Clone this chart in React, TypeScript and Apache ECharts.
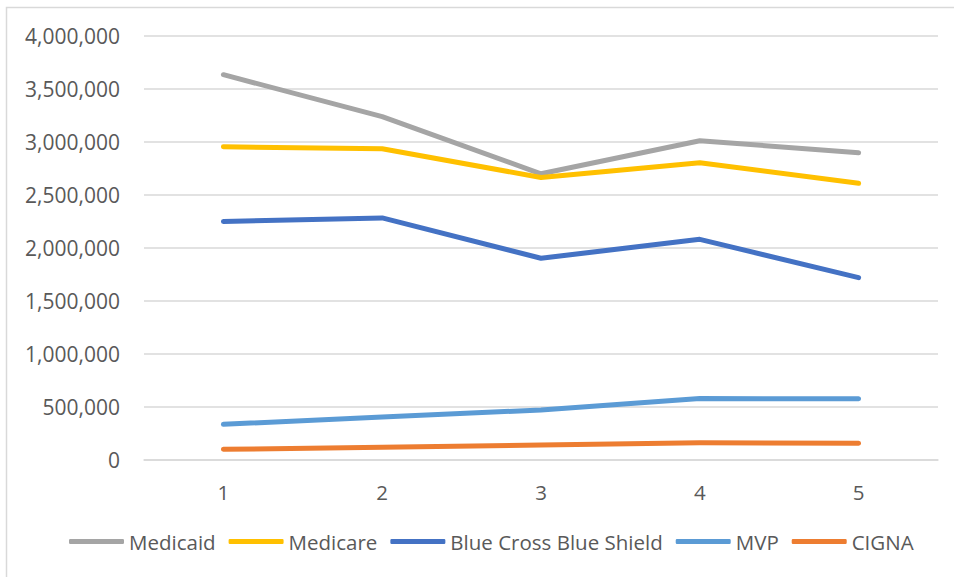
import React, { useEffect, useRef } from "react";
import * as echarts from "echarts";

const categories = ["1", "2", "3", "4", "5"];
const medicaid = [3635000, 3239000, 2700000, 3012000, 2899000];
const medicare = [2955000, 2937000, 2665000, 2805000, 2610000];
const bcbs = [2250000, 2284000, 1903000, 2082000, 1720000];
const mvp = [337000, 405000, 472000, 580000, 577000];
const cigna = [101000, 120000, 142000, 162000, 158000];

const seriesNames = ["Medicaid", "Medicare", "Blue Cross Blue Shield", "MVP", "CIGNA"];
const seriesData = [medicaid, medicare, bcbs, mvp, cigna];
const seriesColors = ["#A5A5A5", "#FFC000", "#4472C4", "#5B9BD5", "#ED7D31"];

const FONT = "'Open Sans', 'Noto Sans', sans-serif";

export default function App() {
  const ref = useRef<HTMLDivElement>(null);
  useEffect(() => {
    if (!ref.current) return;
    const chart = echarts.init(ref.current, null, { renderer: "svg" });
    chart.setOption({
      animation: false,
      backgroundColor: "#FFFFFF",
      textStyle: { fontFamily: FONT },
      graphic: [
        {
          type: "rect",
          shape: { x: 6.5, y: 7.5, width: 1000, height: 700 },
          style: { fill: "none", stroke: "#D9D9D9", lineWidth: 1.5 },
          silent: true,
          z: -1,
        },
      ],
      grid: { left: 144, right: 16, top: 36, bottom: 117 },
      legend: {
        data: seriesNames,
        bottom: 20,
        left: 64,
        icon: "roundRect",
        itemWidth: 55,
        itemHeight: 5,
        itemGap: 13,
        textStyle: { fontFamily: FONT, fontSize: 20.5, color: "#595959" },
      },
      xAxis: {
        type: "category",
        data: categories,
        boundaryGap: true,
        axisLine: { show: true, lineStyle: { color: "#D9D9D9", width: 1.5 } },
        axisTick: { show: false },
        axisLabel: { fontFamily: FONT, fontSize: 20.5, color: "#595959", margin: 21 },
      },
      yAxis: {
        type: "value",
        min: 0,
        max: 4000000,
        interval: 500000,
        axisLine: { show: false },
        axisTick: { show: false },
        splitLine: { lineStyle: { color: "#D9D9D9", width: 1.5 } },
        axisLabel: {
          fontFamily: FONT,
          fontSize: 21,
          color: "#595959",
          margin: 24,
          formatter: (v: number) => v.toLocaleString("en-US"),
        },
      },
      series: seriesNames.map((name, i) => ({
        name,
        type: "line",
        data: seriesData[i],
        symbol: "none",
        color: seriesColors[i],
        lineStyle: { width: 5, color: seriesColors[i], cap: "round", join: "round" },
        itemStyle: { color: seriesColors[i] },
      })),
    });
    return () => chart.dispose();
  }, []);
  return (
    <div
      ref={ref}
      style={{ position: "fixed", left: 0, top: 0, width: 954, height: 577 }}
    />
  );
}
